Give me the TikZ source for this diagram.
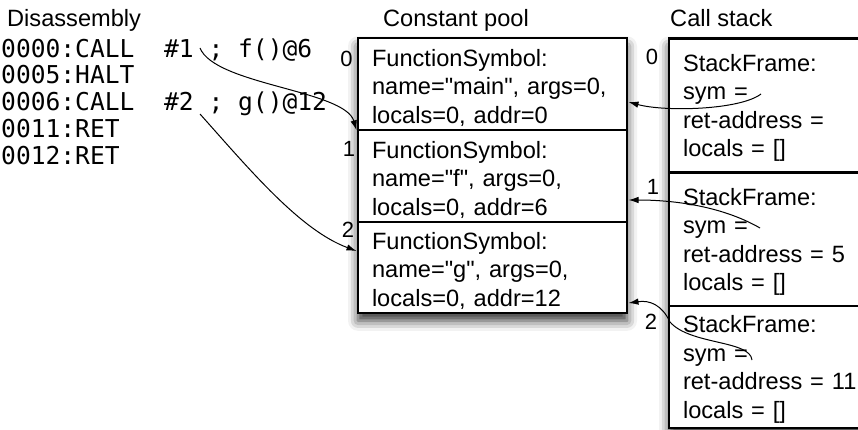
\documentclass[tikz,border=0pt]{standalone}
\usepackage{fontspec}
\setmainfont{Liberation Sans}[Ligatures=TeXOff]
\setmonofont{DejaVu Sans Mono}
\usetikzlibrary{arrows.meta, positioning, fit, backgrounds, shadows.blur}

\begin{document}
\begin{tikzpicture}[
    x=1pt,
    y=-1pt,
    font=\fontsize{23.6}{28.5}\selectfont,
    title/.style={anchor=base west, inner sep=0pt},
    code/.style={anchor=base west, inner sep=0pt, font=\ttfamily\fontsize{24.6}{26.7}\selectfont},
    idx/.style={inner sep=0pt, font=\fontsize{22}{22}\selectfont},
    symcell/.style={draw, line width=2.4pt, fill=white, outer sep=0pt, align=left, text width=241pt, inner xsep=14pt, execute at begin node=\rule{0pt}{24pt}},
    framecell/.style={draw, line width=2.4pt, fill=white, outer sep=0pt, align=left, text width=200pt, inner xsep=14pt, execute at begin node=\rule{0pt}{22pt}},
    panel/.style={fill=white, inner sep=0pt, blur shadow={shadow xshift=0pt, shadow yshift=-8pt, shadow blur radius=10pt, shadow opacity=80}},
    ref/.style={-{Latex[length=10pt, width=6.5pt]}, line width=1pt}
]
\useasboundingbox (0,0) rectangle (858,430);
\node[title] (disasm) at (7,26.7) {Disassembly};
\node[title] (pooltitle) at (383,26.7) {Constant pool};
\node[title] (stacktitle) at (670,26.7) {Call stack};
\node[code] (op0) at (1,57.3) {0000:CALL~~\#1~;~f()@6};
\node[code] (op1) at (1,84) {0005:HALT};
\node[code] (op2) at (1,110.7) {0006:CALL~~\#2~;~g()@12};
\node[code] (op3) at (1,137.4) {0011:RET};
\node[code] (op4) at (1,164.1) {0012:RET};
\node[symcell, minimum height=92pt, anchor=north west] (cp0) at (358,38.3) {FunctionSymbol:\\name="main",~args=0,\\locals=0,~addr=0};
\node[symcell, minimum height=91.5pt, below=0pt of cp0] (cp1) {FunctionSymbol:\\name="f", args=0,\\locals=0, addr=6};
\node[symcell, minimum height=91pt, below=0pt of cp1] (cp2) {FunctionSymbol:\\name="g", args=0,\\locals=0, addr=12};
\node[framecell, minimum height=134pt, anchor=north west] (sf0) at (669,38.5) {StackFrame:\\sym =\\ret-address =\\locals = []};
\node[framecell, minimum height=133.5pt, below=0pt of sf0] (sf1) {StackFrame:\\sym =\\ret-address = 5\\locals = []};
\node[framecell, minimum height=122pt, below=0pt of sf1] (sf2) {StackFrame:\\sym =\\ret-address = 11\\locals = []};
\begin{scope}[on background layer]
\node[panel, fit=(cp0)(cp2)] (pool) {};
\node[panel, fit=(sf0)(sf2)] (stack) {};
\end{scope}
% slot numbers
\node[idx] (cpidx0) at (346.5,59) {0};
\node[idx] (cpidx1) at (349,149) {1};
\node[idx] (cpidx2) at (348,230) {2};
\node[idx] (sfidx0) at (652,57) {0};
\node[idx] (sfidx1) at (653,187) {1};
\node[idx] (sfidx2) at (651,322) {2};
% pointers
\coordinate (call1) at (200,48);
\coordinate (call2) at (200,114);
\coordinate (sym0) at (761,94);
\coordinate (sym1) at (760,228);
\coordinate (sym2) at (752,360);
\coordinate (bend2) at (670,322);
\coordinate (hitf) at ([xshift=-1.5pt]cp1.north west);
\coordinate (hitg) at (356.5,251);
\coordinate (hitmain) at (628.5,102);
\coordinate (hitf2) at (628.5,200);
\coordinate (hitg2) at (628.5,303);
\draw[ref] (call1) .. controls (215,85) and (345,90) .. (hitf);
\draw[ref] (call2) .. controls (250,170) and (300,230) .. (hitg);
\draw[ref] (sym0) .. controls (740,110) and (665,112) .. (hitmain);
\draw[ref] (sym1) .. controls (720,205) and (670,200) .. (hitf2);
\draw[ref] (sym2) .. controls (750,340) and (690,345) .. (bend2) .. controls (662,305) and (650,300) .. (hitg2);
\end{tikzpicture}
\end{document}
